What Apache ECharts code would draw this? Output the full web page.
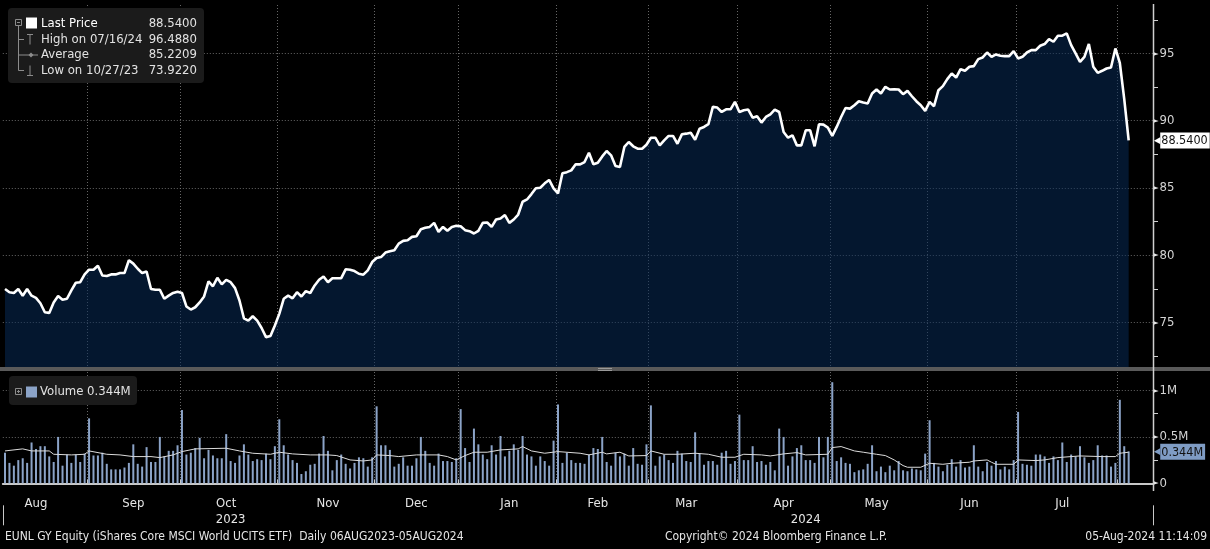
<!DOCTYPE html>
<html>
<head>
<meta charset="utf-8">
<title>EUNL GY Equity</title>
<script src="https://cdn.jsdelivr.net/npm/echarts@6/dist/echarts.min.js"></script>
<style>
    html, body { margin: 0; padding: 0; background: #000; }
    #id-div-chart { width: 1210px; height: 549px; }
</style>
</head>
<body>
<div id="id-div-chart"></div>
<script>
var e = (selector) => document.querySelector(selector)

var font = '"DejaVu Sans Condensed", "Liberation Sans Narrow", "DejaVu Sans", sans-serif'

// trading calendar (Xetra)
var startDate = '2023-08-07'
var endDate = '2024-08-05'
var holidays = ['2023-12-25', '2023-12-26', '2024-01-01', '2024-03-29', '2024-04-01', '2024-05-01']
var padDays = 5

// last price, one value per trading day
var price = [
    77.50, 77.26, 77.20, 77.50, 77.00, 77.50, 77.00, 76.84, 76.44, 75.77,
    75.72, 76.50, 76.97, 76.70, 76.77, 77.40, 77.96, 78.00, 78.58, 78.93,
    78.93, 79.23, 78.50, 78.46, 78.58, 78.58, 78.68, 78.68, 79.63, 79.38,
    79.00, 78.68, 78.80, 77.50, 77.44, 77.44, 76.77, 77.00, 77.20, 77.30,
    77.20, 76.20, 75.97, 76.14, 76.50, 76.94, 78.06, 77.70, 78.33, 77.84,
    78.18, 78.00, 77.56, 76.64, 75.32, 75.15, 75.47, 75.15, 74.60, 73.92,
    74.00, 74.78, 75.65, 76.77, 77.00, 76.80, 77.26, 76.94, 77.34, 77.20,
    77.76, 78.18, 78.43, 78.00, 78.30, 78.30, 78.30, 78.96, 78.93, 78.83,
    78.63, 78.56, 78.88, 79.50, 79.80, 79.87, 80.20, 80.30, 80.37, 80.87,
    81.07, 81.12, 81.37, 81.42, 81.94, 82.04, 82.11, 82.41, 81.74, 82.11,
    81.82, 82.11, 82.19, 82.16, 81.87, 81.79, 81.62, 81.82, 82.41, 82.44,
    82.11, 82.66, 82.74, 82.99, 82.41, 82.66, 83.03, 83.98, 84.15, 84.55,
    84.98, 85.02, 85.35, 85.60, 84.98, 84.60, 86.10, 86.18, 86.31, 86.76,
    86.76, 86.93, 87.62, 86.76, 86.88, 87.35, 87.75, 87.43, 86.63, 86.56,
    88.05, 88.42, 88.10, 87.92, 87.92, 88.22, 88.74, 88.74, 88.17, 88.54,
    88.87, 88.87, 88.29, 88.99, 89.04, 89.11, 88.59, 89.41, 89.54, 89.74,
    91.03, 90.98, 90.65, 90.85, 90.85, 91.40, 90.65, 90.78, 90.83, 90.23,
    90.33, 89.86, 90.28, 90.48, 90.83, 90.65, 89.16, 88.74, 88.92, 88.17,
    88.17, 89.29, 89.29, 88.10, 89.74, 89.71, 89.49, 88.87, 89.54, 90.28,
    90.95, 90.90, 91.15, 91.45, 91.35, 91.28, 92.02, 92.32, 92.02, 92.52,
    92.32, 92.34, 92.32, 91.97, 92.22, 91.82, 91.45, 91.15, 90.73, 91.40,
    91.08, 92.27, 92.57, 93.09, 93.51, 93.21, 93.83, 93.71, 94.01, 94.06,
    94.58, 94.70, 95.07, 94.75, 94.93, 94.83, 94.80, 94.80, 95.17, 94.63,
    94.75, 95.07, 95.25, 95.25, 95.57, 95.70, 96.07, 95.87, 96.32, 96.32,
    96.49, 95.62, 95.00, 94.38, 94.75, 95.70, 94.01, 93.56, 93.71, 93.88,
    93.96, 95.37, 94.30, 91.60, 88.54,
]

// volume in millions, one value per trading day
var volume = [
    0.33, 0.22, 0.19, 0.25, 0.27, 0.22, 0.44, 0.37, 0.40, 0.40,
    0.29, 0.23, 0.50, 0.19, 0.31, 0.22, 0.31, 0.23, 0.32, 0.70,
    0.30, 0.30, 0.33, 0.21, 0.15, 0.15, 0.15, 0.17, 0.22, 0.42,
    0.21, 0.18, 0.39, 0.23, 0.23, 0.50, 0.29, 0.35, 0.35, 0.41,
    0.79, 0.31, 0.33, 0.38, 0.49, 0.27, 0.36, 0.30, 0.27, 0.27,
    0.53, 0.24, 0.22, 0.30, 0.42, 0.31, 0.24, 0.26, 0.25, 0.32,
    0.26, 0.40, 0.69, 0.41, 0.31, 0.25, 0.22, 0.10, 0.13, 0.20,
    0.21, 0.32, 0.51, 0.35, 0.14, 0.25, 0.31, 0.21, 0.16, 0.22,
    0.28, 0.27, 0.18, 0.28, 0.83, 0.41, 0.41, 0.36, 0.18, 0.21,
    0.28, 0.19, 0.19, 0.27, 0.50, 0.35, 0.22, 0.19, 0.32, 0.24,
    0.24, 0.23, 0.27, 0.80, 0.38, 0.23, 0.59, 0.42, 0.31, 0.26,
    0.41, 0.31, 0.51, 0.29, 0.35, 0.42, 0.36, 0.51, 0.31, 0.29,
    0.19, 0.29, 0.24, 0.19, 0.46, 0.85, 0.22, 0.33, 0.25, 0.22,
    0.22, 0.21, 0.31, 0.38, 0.37, 0.50, 0.23, 0.19, 0.33, 0.29,
    0.32, 0.19, 0.38, 0.21, 0.20, 0.42, 0.84, 0.19, 0.29, 0.31,
    0.25, 0.22, 0.35, 0.32, 0.24, 0.23, 0.55, 0.32, 0.20, 0.24,
    0.24, 0.20, 0.33, 0.35, 0.21, 0.24, 0.74, 0.25, 0.25, 0.40,
    0.23, 0.24, 0.20, 0.23, 0.14, 0.59, 0.50, 0.19, 0.29, 0.38,
    0.41, 0.25, 0.25, 0.22, 0.50, 0.28, 0.50, 1.09, 0.24, 0.28,
    0.22, 0.21, 0.12, 0.14, 0.15, 0.21, 0.41, 0.13, 0.18, 0.12,
    0.19, 0.14, 0.24, 0.14, 0.13, 0.16, 0.15, 0.14, 0.32, 0.68,
    0.22, 0.18, 0.13, 0.20, 0.26, 0.18, 0.25, 0.17, 0.18, 0.41,
    0.18, 0.13, 0.23, 0.19, 0.24, 0.15, 0.18, 0.15, 0.25, 0.77,
    0.21, 0.20, 0.19, 0.31, 0.31, 0.29, 0.22, 0.29, 0.25, 0.44,
    0.23, 0.31, 0.29, 0.40, 0.28, 0.22, 0.25, 0.41, 0.30, 0.30,
    0.18, 0.22, 0.90, 0.40, 0.344,
]

// volume moving average, read at points along the white line (day index, millions)
var maIdx = [
    0, 4, 6, 10, 11, 15, 18, 19, 23, 26, 29, 33, 35, 38, 40, 43, 50, 53, 56, 60,
    62, 65, 69, 73, 75, 78, 81, 83, 84, 87, 89, 93, 98, 100, 102, 104, 106, 109, 112, 116,
    117, 119, 122, 125, 130, 132, 135, 136, 139, 141, 145, 146, 149, 152, 156, 159, 162, 165, 167, 171,
    173, 176, 179, 181, 186, 187, 189, 192, 194, 197, 199, 201, 203, 204, 207, 209, 212, 214, 218, 219,
    222, 223, 224, 228, 229, 233, 235, 238, 241, 243, 248, 251, 252, 254,
]
var maVal = [
    0.349, 0.371, 0.349, 0.349, 0.313, 0.306, 0.313, 0.349, 0.313, 0.306, 0.288, 0.288, 0.277, 0.306, 0.342, 0.371, 0.378, 0.349, 0.324, 0.313,
    0.335, 0.317, 0.306, 0.306, 0.299, 0.252, 0.241, 0.252, 0.306, 0.299, 0.288, 0.306, 0.306, 0.288, 0.252, 0.299, 0.335, 0.335, 0.360, 0.371,
    0.396, 0.349, 0.324, 0.342, 0.324, 0.306, 0.335, 0.317, 0.335, 0.295, 0.299, 0.349, 0.313, 0.313, 0.324, 0.313, 0.281, 0.281, 0.313, 0.306,
    0.295, 0.317, 0.331, 0.306, 0.313, 0.385, 0.396, 0.349, 0.335, 0.313, 0.299, 0.252, 0.191, 0.173, 0.173, 0.216, 0.205, 0.216, 0.227, 0.241,
    0.252, 0.227, 0.205, 0.205, 0.252, 0.245, 0.252, 0.277, 0.288, 0.295, 0.288, 0.288, 0.324, 0.335,
]

// axis labels
var monthLabels = ['Aug', 'Sep', 'Oct', 'Nov', 'Dec', 'Jan', 'Feb', 'Mar', 'Apr', 'May', 'Jun', 'Jul']
var monthLabelIdx = [7, 29, 50, 73, 93, 114, 134, 154, 176, 197, 218, 239]
var yearLabels = ['2023', '2024']
var yearLabelIdx = [51, 181]
var yearBreakIdx = [103]

// legend figures
var statNames = ['Last Price', 'High on 07/16/24', 'Average', 'Low on 10/27/23']
var statValues = ['88.5400', '96.4880', '85.2209', '73.9220']
var lastPrice = 88.54
var lastVolume = 0.344

var tradingDays = function() {
    var days = []
    var d = new Date(startDate + 'T00:00:00Z')
    var end = new Date(endDate + 'T00:00:00Z')
    while (d <= end) {
        var s = d.toISOString().slice(0, 10)
        var w = d.getUTCDay()
        if (w != 0 && w != 6 && holidays.indexOf(s) < 0) {
            days.push(s)
        }
        d.setUTCDate(d.getUTCDate() + 1)
    }
    for (var i = 0; i < padDays; i++) {
        days.push('')
    }
    return days
}

var monthStarts = function(days) {
    var r = []
    for (var i = 1; i < days.length; i++) {
        if (days[i] != '' && days[i].slice(0, 7) != days[i - 1].slice(0, 7)) {
            r.push(i)
        }
    }
    return r
}

var gridLine = {
    color: 'rgba(120,120,120,0.85)',
    type: [1, 2],
    width: 1,
}

var arrowLabel = function(v) {
    return '{t|►}{v|' + v + '}'
}

var axisRich = {
    t: { fontSize: 8, color: '#e8e8e8', fontFamily: font, padding: [0, 1, 0, 0] },
    v: { fontSize: 13, color: '#d4d4d4', fontFamily: font },
}

var text = (x, y, s, fill, align, size) => ({
    type: 'text', z: 101,
    style: {
        x: x, y: y, text: s, fill: fill,
        align: align || 'left', verticalAlign: 'middle',
        font: (size || 13) + 'px ' + font,
    },
})

var line = (x1, y1, x2, y2, stroke, w) => ({
    type: 'line', z: 101,
    shape: { x1: x1, y1: y1, x2: x2, y2: y2 },
    style: { stroke: stroke, lineWidth: w || 1 },
})

var rect = (x, y, w, h, fill, r, z) => ({
    type: 'rect', z: z || 100,
    shape: { x: x, y: y, width: w, height: h, r: r || 0 },
    style: { fill: fill },
})

// value tag on the right axis: a small arrow plus a filled box
var tagLabel = function(s, bg) {
    return {
        show: true, position: 'end', distance: 1,
        formatter: '{a|◀}{b|' + s + '}',
        rich: {
            a: { color: bg, fontSize: 9, fontFamily: font },
            b: { color: '#111111', backgroundColor: bg, fontSize: 12.5, fontFamily: font, padding: [2, 2, 1, 1] },
        },
    }
}

var legendGraphics = function() {
    var g = []
    var tree = '#8c8c8c'
    var rows = [24, 39.5, 55, 70.5]
    g.push(rect(8, 8, 196, 75, '#1b1b1b', 4))
    // tree
    g.push({ type: 'rect', z: 101, shape: { x: 15.5, y: 19.5, width: 6, height: 6 }, style: { fill: 'none', stroke: tree, lineWidth: 1 } })
    g.push(line(17, 22.5, 20, 22.5, tree))
    g.push(line(18.5, 26, 18.5, 70.5, tree))
    g.push(line(18.5, 39.5, 24, 39.5, tree))
    g.push(line(18.5, 55, 24, 55, tree))
    g.push(line(18.5, 70.5, 24, 70.5, tree))
    // icons
    g.push(rect(26, 17.5, 11, 11, '#ffffff', 0, 101))
    g.push(line(27, 34.5, 33, 34.5, tree))
    g.push(line(30, 34.5, 30, 44.5, tree))
    g.push(line(24, 55, 38, 55, tree))
    g.push({ type: 'polygon', z: 101, shape: { points: [[31, 52.5], [33.5, 55], [31, 57.5], [28.5, 55]] }, style: { fill: tree } })
    g.push(line(30, 65.5, 30, 75.5, tree))
    g.push(line(27, 75.5, 33, 75.5, tree))
    for (var i = 0; i < statNames.length; i++) {
        var c = i == 0 ? '#ffffff' : '#e2e2e2'
        g.push(text(41, rows[i], statNames[i], c))
        g.push(text(197, rows[i], statValues[i], '#e2e2e2', 'right'))
    }
    // volume legend
    g.push(rect(9, 376, 128, 29, '#1b1b1b', 4))
    g.push({ type: 'rect', z: 101, shape: { x: 15.5, y: 388.5, width: 6, height: 6 }, style: { fill: 'none', stroke: tree, lineWidth: 1 } })
    g.push(line(17, 391.5, 20, 391.5, tree))
    g.push(line(18.5, 390, 18.5, 393, tree))
    g.push(rect(26, 386.5, 11, 11, '#8ba3c7', 0, 101))
    g.push(text(40, 392, 'Volume ' + lastVolume + 'M', '#e2e2e2'))
    return g
}

var frameGraphics = function() {
    var g = []
    // pane separator
    g.push(rect(0, 367, 1210, 4, '#5a5a5a', 0, 99))
    g.push(rect(598, 368, 14, 1, '#9a9a9a', 0, 99))
    g.push(rect(598, 370, 14, 1, '#9a9a9a', 0, 99))
    // right axis line
    g.push(line(1153.5, 4, 1153.5, 491, '#cfcfcf', 1.5))
    // footer
    g.push(text(5, 537, 'EUNL GY Equity (iShares Core MSCI World UCITS ETF)  Daily 06AUG2023-05AUG2024', '#e6e6e6', 'left', 12))
    g.push(text(776, 537, 'Copyright\u00a9 2024 Bloomberg Finance L.P.', '#e6e6e6', 'center', 12))
    g.push(text(1207, 537, '05-Aug-2024 11:14:09', '#e6e6e6', 'right', 12))
    return g
}

var configuredChart = function() {
    var element = e('#id-div-chart')
    var chart = echarts.init(element, null, { renderer: 'canvas' })
    return chart
}

var formattedOption = function() {
    var days = tradingDays()
    var starts = monthStarts(days)
    var isStart = (i) => starts.indexOf(i) >= 0
    var maData = maIdx.map((x, k) => [x, maVal[k]])
    var hidden = { color: 'rgba(0,0,0,0)', width: 0 }

    var option = {
        backgroundColor: '#000000',
        animation: false,
        textStyle: { fontFamily: font },
        grid: [
            { left: 2.8, right: 57, top: 5, height: 362 },
            { left: 2.8, right: 57, top: 372, height: 111.3 },
        ],
        xAxis: [
            {
                type: 'category', gridIndex: 0, data: days, boundaryGap: true,
                axisLine: { show: false }, axisTick: { show: false }, axisLabel: { show: false },
                splitLine: { show: true, interval: isStart, lineStyle: gridLine },
            },
            {
                type: 'category', gridIndex: 1, data: days, boundaryGap: true, offset: 8,
                axisLine: { show: true, lineStyle: { color: '#c8c8c8', width: 2 } },
                axisTick: { show: true, inside: true, length: 4, interval: isStart, lineStyle: { color: '#c8c8c8' } },
                axisLabel: {
                    show: true, margin: 6, color: '#e6e6e6', fontSize: 13, fontFamily: font,
                    interval: (i) => monthLabelIdx.indexOf(i) >= 0,
                    formatter: (v, i) => monthLabels[monthLabelIdx.indexOf(i)],
                },
                splitLine: { show: true, interval: isStart, lineStyle: gridLine },
            },
            {
                type: 'category', gridIndex: 1, data: days, boundaryGap: true, position: 'bottom', offset: 22,
                axisLine: { show: false },
                axisTick: { show: true, length: 20, interval: (i) => yearBreakIdx.indexOf(i) >= 0, lineStyle: { color: '#c8c8c8' } },
                axisLabel: {
                    show: true, margin: 8, color: '#e6e6e6', fontSize: 13, fontFamily: font,
                    interval: (i) => yearLabelIdx.indexOf(i) >= 0,
                    formatter: (v, i) => yearLabels[yearLabelIdx.indexOf(i)],
                },
                splitLine: { show: false },
            },
        ],
        yAxis: [
            {
                type: 'value', gridIndex: 0, position: 'right', min: 71.7, max: 98.6, splitNumber: 5,
                axisLine: { show: false }, axisTick: { show: false },
                minorTick: { show: true, splitNumber: 2, length: 5, lineStyle: { color: '#cfcfcf' } },
                axisLabel: {
                    margin: 0, showMinLabel: false, showMaxLabel: false,
                    formatter: arrowLabel, rich: axisRich,
                },
                splitLine: { show: true, showMinLine: false, showMaxLine: false, lineStyle: gridLine },
            },
            {
                type: 'value', gridIndex: 1, position: 'right', min: 0, max: 1.2, interval: 0.5,
                axisLine: { show: false }, axisTick: { show: false },
                minorTick: { show: true, splitNumber: 2, length: 5, lineStyle: { color: '#cfcfcf' } },
                axisLabel: {
                    margin: 0, showMaxLabel: false,
                    formatter: (v) => arrowLabel(v == 0 ? '0' : v + 'M'), rich: axisRich,
                },
                splitLine: { show: true, showMaxLine: false, lineStyle: gridLine },
            },
        ],
        series: [
            {
                name: 'Last Price', type: 'line', xAxisIndex: 0, yAxisIndex: 0,
                data: price, showSymbol: false, symbol: 'none',
                lineStyle: { color: '#ffffff', width: 2.6 },
                areaStyle: { origin: 'start', color: 'rgba(8,44,88,0.76)' },
                markLine: {
                    silent: true, symbol: 'none',
                    lineStyle: hidden,
                    data: [{ yAxis: lastPrice }],
                    label: tagLabel(lastPrice.toFixed(4), '#ffffff'),
                },
            },
            {
                name: 'Volume', type: 'bar', xAxisIndex: 1, yAxisIndex: 1,
                data: volume, barWidth: 2,
                itemStyle: { color: '#8ba3c7' },
                markLine: {
                    silent: true, symbol: 'none',
                    lineStyle: hidden,
                    data: [{ yAxis: lastVolume }],
                    label: tagLabel(lastVolume + 'M', '#7f9cc4'),
                },
            },
            {
                name: 'Volume MA', type: 'line', xAxisIndex: 1, yAxisIndex: 1,
                data: maData, showSymbol: false, symbol: 'none',
                lineStyle: { color: '#dcdcdc', width: 1 },
                z: 3,
            },
        ],
        graphic: legendGraphics().concat(frameGraphics()),
    }
    return option
}

var __main = function() {
    var chart = configuredChart()
    chart.setOption(formattedOption())
}

__main()
</script>
</body>
</html>
